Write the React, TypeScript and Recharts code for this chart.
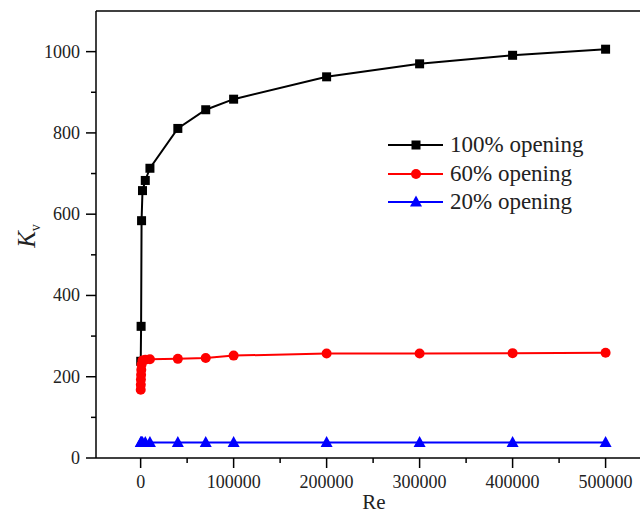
import { Legend, Line, LineChart, ReferenceLine, XAxis, YAxis } from 'recharts';

const FONT = '"Liberation Serif", "Times New Roman", serif';

// Reynolds numbers and Kv values for each valve opening
const re100 = [100, 500, 1000, 2000, 5000, 10000, 40000, 70000, 100000, 200000, 300000, 400000, 500000];
const kv100 = [238, 324, 584, 658, 683, 713, 811, 857, 883, 938, 970, 991, 1006];

const re60 = [100, 200, 300, 500, 700, 1000, 2000, 5000, 10000, 40000, 70000, 100000, 200000, 300000, 400000, 500000];
const kv60 = [168, 180, 193, 205, 217, 230, 240, 242, 243, 244, 246, 252, 257, 257, 258, 259];

const re20 = [100, 500, 1000, 2000, 5000, 10000, 40000, 70000, 100000, 200000, 300000, 400000, 500000];
const kv20 = [38, 38, 38, 38, 38, 38, 38, 38, 38, 38, 38, 38, 38];

const xTicks = [0, 50000, 100000, 150000, 200000, 250000, 300000, 350000, 400000, 450000, 500000];
const yTicks = [0, 100, 200, 300, 400, 500, 600, 700, 800, 900, 1000];

const toPoints = (re: number[], kv: number[]) => re.map((r, i) => ({ re: r, kv: kv[i] }));

type Shape = 'square' | 'circle' | 'triangle';

const series: { name: string; color: string; shape: Shape; data: { re: number; kv: number }[] }[] = [
  { name: '100% opening', color: '#000000', shape: 'square', data: toPoints(re100, kv100) },
  { name: '60% opening', color: '#ff0000', shape: 'circle', data: toPoints(re60, kv60) },
  { name: '20% opening', color: '#0000ff', shape: 'triangle', data: toPoints(re20, kv20) },
];

function Marker({ cx, cy, shape, color }: { cx: number; cy: number; shape: Shape; color: string }) {
  if (shape === 'square') {
    return <rect x={cx - 4.5} y={cy - 4.5} width={9} height={9} fill={color} />;
  }
  if (shape === 'circle') {
    return <circle cx={cx} cy={cy} r={5} fill={color} />;
  }
  return <polygon points={`${cx},${cy - 6.5} ${cx + 6},${cy + 4.5} ${cx - 6},${cy + 4.5}`} fill={color} />;
}

function XTick({ x, y, payload }: any) {
  const major = payload.value % 100000 === 0;
  return (
    <g>
      <line x1={x} x2={x} y1={y} y2={y + (major ? 10 : 5)} stroke="#000" strokeWidth={1.5} />
      {major && (
        <text x={x} y={y + 30} textAnchor="middle" fontFamily={FONT} fontSize={18} fill="#222">
          {payload.value}
        </text>
      )}
    </g>
  );
}

function YTick({ x, y, payload }: any) {
  const major = payload.value % 200 === 0;
  return (
    <g>
      <line x1={x} x2={x - (major ? 10 : 5)} y1={y} y2={y} stroke="#000" strokeWidth={1.5} />
      {major && (
        <text x={x - 16} y={y + 6} textAnchor="end" fontFamily={FONT} fontSize={18} fill="#222">
          {payload.value}
        </text>
      )}
    </g>
  );
}

function KvLabel() {
  return (
    <text transform="translate(35,236) rotate(-90)" textAnchor="middle" fontFamily={FONT} fontSize={25} fill="#222">
      <tspan fontStyle="italic">K</tspan>
      <tspan fontSize={14} dy={5}>v</tspan>
    </text>
  );
}

function ReLabel() {
  return (
    <text x={374} y={509} textAnchor="middle" fontFamily={FONT} fontSize={21} fill="#222">
      Re
    </text>
  );
}

function LegendBox() {
  return (
    <div>
      {series.map((s) => (
        <div key={s.name} style={{ display: 'flex', alignItems: 'center', height: 28.5 }}>
          <svg width={62} height={20}>
            <line x1={3} x2={58} y1={10} y2={10} stroke={s.color} strokeWidth={2} />
            <Marker cx={31} cy={10} shape={s.shape} color={s.color} />
          </svg>
          <span style={{ marginLeft: 3, fontFamily: FONT, fontSize: 23, color: '#222', lineHeight: '28.5px' }}>
            {s.name}
          </span>
        </div>
      ))}
    </div>
  );
}

export default function App() {
  return (
    <div style={{ position: 'absolute', left: 0, top: 0, width: 640, height: 514, background: '#fff' }}>
      <LineChart width={640} height={514} margin={{ top: 11, right: 0, bottom: 0, left: 0 }}>
        <XAxis
          type="number"
          dataKey="re"
          domain={[-48000, 537000]}
          ticks={xTicks}
          interval={0}
          height={56}
          tickSize={0}
          tickMargin={0}
          tickLine={false}
          tick={<XTick />}
          axisLine={{ stroke: '#000', strokeWidth: 1.5 }}
          allowDataOverflow
          label={<ReLabel />}
        />
        <YAxis
          type="number"
          dataKey="kv"
          domain={[0, 1100]}
          ticks={yTicks}
          interval={0}
          width={96}
          tickSize={0}
          tickMargin={0}
          tickLine={false}
          tick={<YTick />}
          axisLine={{ stroke: '#000', strokeWidth: 1.5 }}
          allowDataOverflow
          label={<KvLabel />}
        />
        <ReferenceLine y={1100} stroke="#000" strokeWidth={1.5} />
        <Legend
          layout="vertical"
          align="center"
          verticalAlign="middle"
          content={<LegendBox />}
          wrapperStyle={{ position: 'absolute', left: 385, top: 131, width: 250, height: 90 }}
        />
        {series.map((s) => (
          <Line
            key={s.name}
            data={s.data}
            dataKey="kv"
            name={s.name}
            type="linear"
            stroke={s.color}
            strokeWidth={2}
            isAnimationActive={false}
            dot={(p: any) => <Marker key={`${s.name}-${p.index}`} cx={p.cx} cy={p.cy} shape={s.shape} color={s.color} />}
            activeDot={false}
          />
        ))}
      </LineChart>
    </div>
  );
}
